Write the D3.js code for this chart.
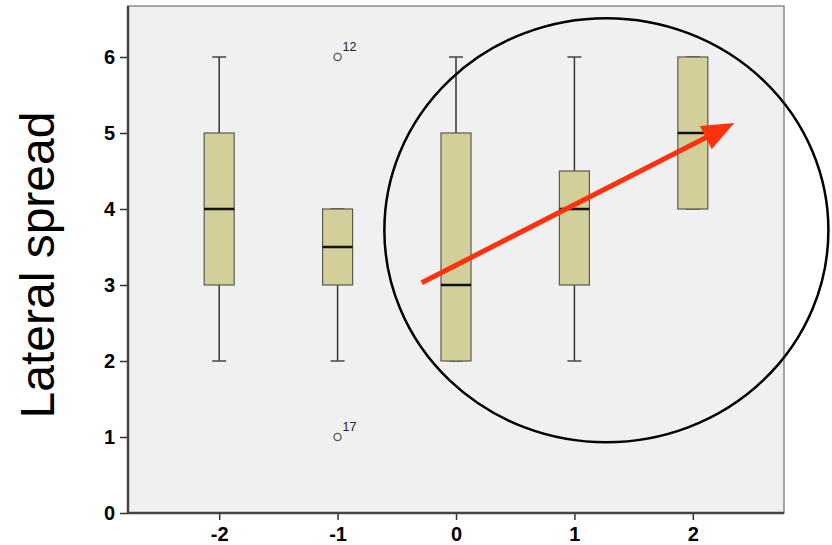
<!DOCTYPE html>
<html>
<head>
<meta charset="utf-8">
<script src="https://cdn.jsdelivr.net/npm/d3@7"></script>
<style>
  body { margin: 0; background: #fff; }
  svg { display: block; }
</style>
</head>
<body>
<div id="chart"></div>
<script>
// categories and box statistics
const groups = ["-2", "-1", "0", "1", "2"];
const whiskerLow = [2, 2, 2, 2, 4];
const q1 = [3, 3, 2, 3, 4];
const median = [4, 3.5, 3, 4, 5];
const q3 = [5, 4, 5, 4.5, 6];
const whiskerHigh = [6, 4, 6, 6, 6];

// outliers: group, value, case label
const outlierGroup = ["-1", "-1"];
const outlierValue = [6, 1];
const outlierLabel = ["12", "17"];

const yTicks = [0, 1, 2, 3, 4, 5, 6];

// annotations in data units
const arrowFrom = [-0.29, 3.03];
const arrowTo = [2.35, 5.13];
const ringCenter = [1.27, 3.72];
const ringRadius = [1.875, 2.79];

function createPlot() {
  const W = 832, H = 545;
  const margin = { top: 6, right: 48, bottom: 32, left: 128 };
  const width = W - margin.left - margin.right;
  const height = H - margin.top - margin.bottom;

  const svg = d3.select("#chart").append("svg")
      .attr("width", W)
      .attr("height", H);

  const g = svg.append("g")
      .attr("transform", `translate(${margin.left},${margin.top})`);

  const x = d3.scalePoint()
      .domain(groups)
      .range([0, width])
      .padding(0.77);

  const y = d3.scaleLinear()
      .domain([0, 6])
      .range([height, height - 6 * 76]);

  // --- plot background and frame ---
  g.append("rect")
      .attr("width", width)
      .attr("height", height)
      .style("fill", "#f0f0f0")
      .style("stroke", "#8a8a8a")
      .style("stroke-width", 1.5);

  // --- boxes ---
  const boxW = 30, capW = 14;
  groups.forEach((grp, i) => {
    const cx = x(grp);
    const bg = g.append("g");
    // whiskers
    bg.append("line")
        .attr("x1", cx).attr("x2", cx)
        .attr("y1", y(whiskerLow[i])).attr("y2", y(q1[i]))
        .style("stroke", "#333").style("stroke-width", 1.5);
    bg.append("line")
        .attr("x1", cx).attr("x2", cx)
        .attr("y1", y(q3[i])).attr("y2", y(whiskerHigh[i]))
        .style("stroke", "#333").style("stroke-width", 1.5);
    [whiskerLow[i], whiskerHigh[i]].forEach(v => {
      bg.append("line")
          .attr("x1", cx - capW / 2).attr("x2", cx + capW / 2)
          .attr("y1", y(v)).attr("y2", y(v))
          .style("stroke", "#444").style("stroke-width", 1.5);
    });
    bg.append("rect")
        .attr("x", cx - boxW / 2)
        .attr("y", y(q3[i]))
        .attr("width", boxW)
        .attr("height", y(q1[i]) - y(q3[i]))
        .style("fill", "#d3cf9a")
        .style("stroke", "#5a5a50")
        .style("stroke-width", 1.2);
    bg.append("line")
        .attr("x1", cx - boxW / 2).attr("x2", cx + boxW / 2)
        .attr("y1", y(median[i])).attr("y2", y(median[i]))
        .style("stroke", "#111").style("stroke-width", 2.5);
  });

  // --- outliers ---
  outlierValue.forEach((v, i) => {
    const cx = x(outlierGroup[i]);
    g.append("circle")
        .attr("cx", cx).attr("cy", y(v)).attr("r", 3.6)
        .style("fill", "none")
        .style("stroke", "#555")
        .style("stroke-width", 1.3);
    g.append("text")
        .attr("x", cx + 5).attr("y", y(v) - 6)
        .style("font-family", "Liberation Sans, Arial, sans-serif")
        .style("font-size", "12.5px")
        .style("fill", "#222")
        .text(outlierLabel[i]);
  });

  // --- axes ---
  const yAxis = g.append("g")
      .call(d3.axisLeft(y).tickValues(yTicks).tickFormat(d3.format("d")).tickSize(8).tickPadding(5));
  const xAxis = g.append("g")
      .attr("transform", `translate(0,${height})`)
      .call(d3.axisBottom(x).tickSize(7).tickPadding(7));

  [yAxis, xAxis].forEach(ax => {
    ax.select(".domain").remove();
    ax.selectAll(".tick line").style("stroke", "#333").style("stroke-width", 1.5);
    ax.selectAll(".tick text")
        .style("font-family", "Liberation Sans, Arial, sans-serif")
        .style("font-weight", "bold")
        .style("font-size", "20px")
        .style("fill", "#000");
  });
  xAxis.selectAll(".tick text").attr("dy", "0.72em");

  // axis lines on left and bottom
  g.append("line")
      .attr("x1", 0).attr("x2", 0).attr("y1", 0).attr("y2", height)
      .style("stroke", "#444").style("stroke-width", 2.5);
  g.append("line")
      .attr("x1", 0).attr("x2", width).attr("y1", height).attr("y2", height)
      .style("stroke", "#444").style("stroke-width", 2.5);

  // --- annotation ring ---
  g.append("ellipse")
      .attr("cx", x("0") + ringCenter[0] * (x("1") - x("0")))
      .attr("cy", y(ringCenter[1]))
      .attr("rx", ringRadius[0] * (x("1") - x("0")))
      .attr("ry", y(0) - y(ringRadius[1]))
      .style("fill", "none")
      .style("stroke", "#000")
      .style("stroke-width", 2.5);

  // --- annotation arrow ---
  const step = x("1") - x("0");
  const px = v => x("0") + v * step;
  const x1 = px(arrowFrom[0]), y1 = y(arrowFrom[1]);
  const x2 = px(arrowTo[0]), y2 = y(arrowTo[1]);
  const len = Math.hypot(x2 - x1, y2 - y1);
  const ux = (x2 - x1) / len, uy = (y2 - y1) / len;
  const headL = 32, headW = 13;
  const bx = x2 - ux * headL, by = y2 - uy * headL;
  g.append("line")
      .attr("x1", x1).attr("y1", y1)
      .attr("x2", bx + ux * 2).attr("y2", by + uy * 2)
      .style("stroke", "#ff3210")
      .style("stroke-width", 5);
  g.append("path")
      .attr("d", `M${x2},${y2}L${bx - uy * headW},${by + ux * headW}L${bx + uy * headW},${by - ux * headW}Z`)
      .style("fill", "#ff3210");

  // --- y axis title ---
  svg.append("text")
      .attr("transform", `translate(54,265) rotate(-90)`)
      .style("text-anchor", "middle")
      .style("font-family", "Liberation Sans, Arial, sans-serif")
      .style("font-size", "48px")
      .style("fill", "#000")
      .text("Lateral spread");
}

document.addEventListener('DOMContentLoaded', () => {
  createPlot();
});
</script>
</body>
</html>
